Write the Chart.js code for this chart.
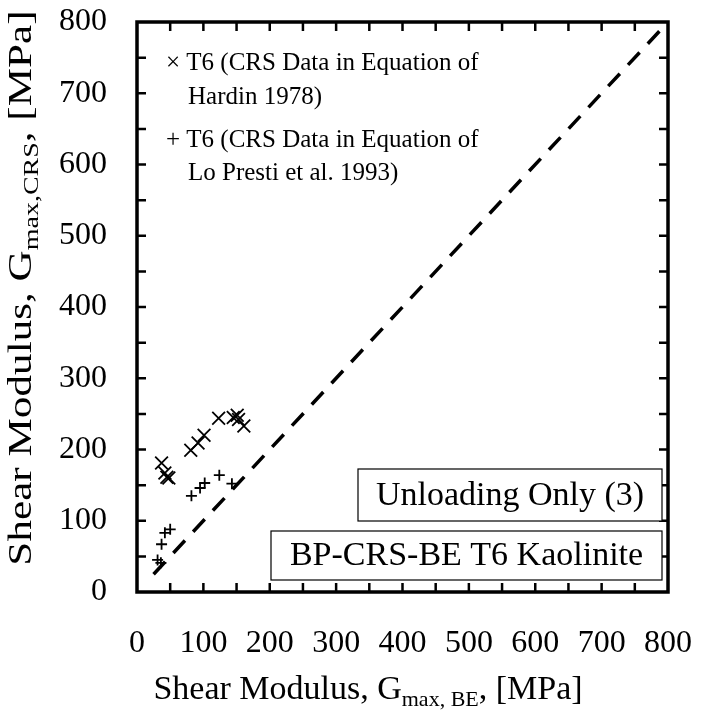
<!DOCTYPE html>
<html>
<head>
<meta charset="utf-8">
<script src="https://cdn.jsdelivr.net/npm/chart.js@4.4.1/dist/chart.umd.min.js"></script>
<style>
  html, body { margin: 0; padding: 0; background: #fff; }
  #wrap { width: 701px; height: 711px; position: relative; }
</style>
</head>
<body>
<div id="wrap"><canvas id="chart"></canvas></div>
<script>
// T6 CRS data, equation of Hardin 1978 (x = Gmax,BE, y = Gmax,CRS)
const hardinBE  = [37, 42, 45, 48, 81, 92, 101, 123, 145, 151, 153, 161];
const hardinCRS = [181, 167, 161, 160, 199, 209, 220, 244, 245, 248, 242, 233];

// T6 CRS data, equation of Lo Presti et al. 1993
const prestiBE  = [31, 36, 37, 42, 50, 82, 95, 102, 124, 143];
const prestiCRS = [45, 41, 67, 83, 88, 135, 146, 153, 164, 152];

// 1:1 reference line
const lineX = [25, 790];

const xTicks = [0, 100, 200, 300, 400, 500, 600, 700, 800];
const yTicks = [0, 100, 200, 300, 400, 500, 600, 700, 800];

const legendLines = [
  ['\u00d7 T6 (CRS Data in Equation of', 'Hardin 1978)'],
  ['+ T6 (CRS Data in Equation of', 'Lo Presti et al. 1993)'],
];
const boxLabels = ['Unloading Only (3)', 'BP-CRS-BE T6 Kaolinite'];

const FONT = '"Liberation Serif", "DejaVu Serif", serif';

const toPts = (xs, ys) => xs.map((x, i) => ({ x, y: ys[i] }));

// frame, inward ticks, legend, boxes, axis titles
const decor = {
  id: 'decor',
  afterDraw(chart) {
    const { ctx, chartArea: a, scales } = chart;
    const xs = scales.x, ys = scales.y;
    ctx.save();
    ctx.strokeStyle = '#000';

    // inward ticks every 50 on all four sides
    ctx.lineWidth = 2.5;
    for (let v = 50; v < 800; v += 50) {
      const px = xs.getPixelForValue(v);
      const py = ys.getPixelForValue(v);
      ctx.beginPath();
      ctx.moveTo(px, a.bottom); ctx.lineTo(px, a.bottom - 9);
      ctx.moveTo(px, a.top);    ctx.lineTo(px, a.top + 9);
      ctx.moveTo(a.left, py);   ctx.lineTo(a.left + 9, py);
      ctx.moveTo(a.right, py);  ctx.lineTo(a.right - 9, py);
      ctx.stroke();
    }
    // frame
    ctx.lineWidth = 3.5;
    ctx.strokeRect(a.left, a.top, a.right - a.left, a.bottom - a.top);

    // legend
    ctx.fillStyle = '#000';
    ctx.font = '25px ' + FONT;
    ctx.textBaseline = 'middle';
    ctx.textAlign = 'left';
    const lx = a.left + 29;
    ctx.fillText(legendLines[0][0], lx, a.top + 41);
    ctx.fillText(legendLines[0][1], lx + 22, a.top + 75);
    ctx.fillText(legendLines[1][0], lx, a.top + 118);
    ctx.fillText(legendLines[1][1], lx + 22, a.top + 151);

    // text boxes
    ctx.font = '34px ' + FONT;
    ctx.lineWidth = 1.2;
    ctx.textAlign = 'center';
    const b1 = { l: 358, t: 469, r: 662, b: 521 };
    const b2 = { l: 271, t: 531, r: 662, b: 580 };
    [b1, b2].forEach((b, i) => {
      ctx.fillStyle = '#fff';
      ctx.fillRect(b.l, b.t, b.r - b.l, b.b - b.t);
      ctx.strokeRect(b.l, b.t, b.r - b.l, b.b - b.t);
      ctx.fillStyle = '#000';
      ctx.fillText(boxLabels[i], (b.l + b.r) / 2, (b.t + b.b) / 2 + 1);
    });

    // axis titles with subscripts
    const drawTitle = (parts, cx, cy, size, subSize) => {
      let w = 0;
      parts.forEach(p => { ctx.font = (p.sub ? subSize : size) + 'px ' + FONT; w += ctx.measureText(p.t).width; });
      let x = cx - w / 2;
      ctx.textAlign = 'left';
      parts.forEach(p => {
        ctx.font = (p.sub ? subSize : size) + 'px ' + FONT;
        ctx.fillText(p.t, x, cy + (p.sub ? size * 0.3 : 0));
        x += ctx.measureText(p.t).width;
      });
    };
    ctx.fillStyle = '#000';
    ctx.textBaseline = 'middle';
    drawTitle([{ t: 'Shear Modulus, G' }, { t: 'max, BE', sub: true }, { t: ', [MPa]' }], 368, 690, 34, 22);
    ctx.save();
    ctx.translate(22, 288);
    ctx.rotate(-Math.PI / 2);
    ctx.scale(1.27, 1);
    drawTitle([{ t: 'Shear Modulus, G' }, { t: 'max,CRS', sub: true }, { t: ', [MPa]' }], 0, 0, 34, 22);
    ctx.restore();

    ctx.restore();
  }
};

new Chart(document.getElementById('chart'), {
  type: 'scatter',
  data: {
    datasets: [
      {
        label: 'Hardin',
        data: toPts(hardinBE, hardinCRS),
        pointStyle: 'crossRot',
        radius: 9,
        borderColor: '#000',
        borderWidth: 1.8,
        backgroundColor: '#000',
      },
      {
        label: 'Lo Presti',
        data: toPts(prestiBE, prestiCRS),
        pointStyle: 'cross',
        radius: 5.5,
        borderColor: '#000',
        borderWidth: 1.8,
        backgroundColor: '#000',
      },
      {
        label: '1:1',
        type: 'line',
        data: toPts(lineX, lineX),
        borderColor: '#000',
        borderWidth: 3.5,
        borderDash: [17, 12],
        pointRadius: 0,
        fill: false,
      },
    ],
  },
  options: {
    responsive: true,
    maintainAspectRatio: false,
    animation: false,
    layout: { padding: { left: 0, top: 22, right: 33, bottom: 0 } },
    plugins: { legend: { display: false }, tooltip: { enabled: false } },
    scales: {
      x: {
        type: 'linear', min: 0, max: 800,
        afterBuildTicks: s => { s.ticks = xTicks.map(v => ({ value: v })); },
        afterFit: s => { s.height = 119; s.paddingLeft = 0; s.paddingRight = 0; },
        grid: { display: false, drawTicks: false },
        border: { display: false },
        ticks: { color: '#000', font: { family: FONT, size: 32 }, padding: 32, maxRotation: 0 },
      },
      y: {
        type: 'linear', min: 0, max: 800,
        afterBuildTicks: s => { s.ticks = yTicks.map(v => ({ value: v })); },
        afterFit: s => { s.width = 137; s.paddingTop = 0; s.paddingBottom = 0; },
        grid: { display: false, drawTicks: false },
        border: { display: false },
        ticks: { color: '#000', font: { family: FONT, size: 32 }, padding: 30 },
      },
    },
  },
  plugins: [decor],
});
</script>
</body>
</html>
